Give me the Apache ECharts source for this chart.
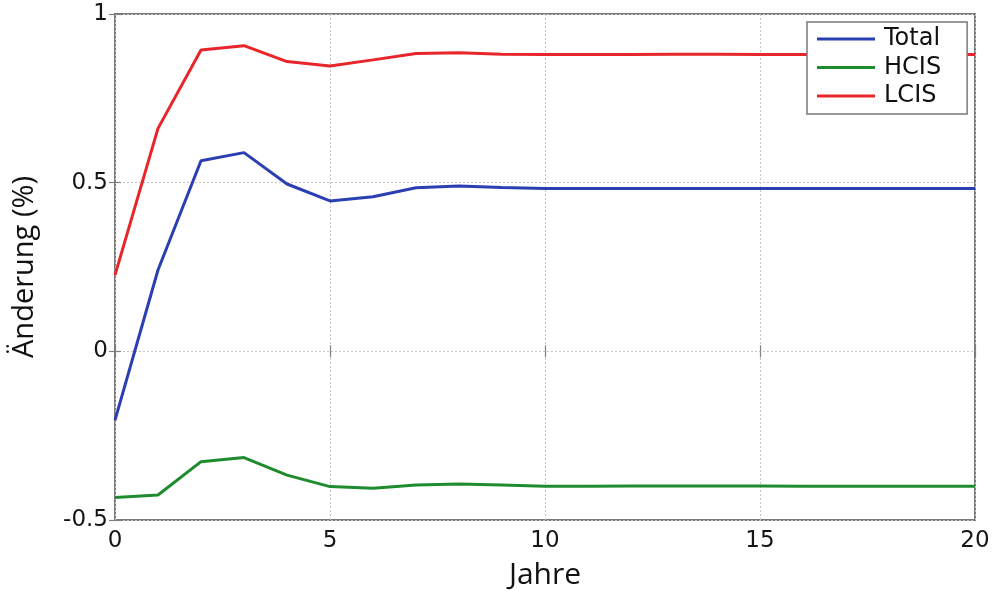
<!DOCTYPE html>
<html><head><meta charset="utf-8">
<script src="https://cdn.jsdelivr.net/npm/echarts@6/dist/echarts.min.js"></script>
<style>html,body{margin:0;padding:0;background:#fff}#c{width:1000px;height:590px}</style>
</head><body><div id="c"></div>
<script>
const years = [0,1,2,3,4,5,6,7,8,9,10,11,12,13,14,15,16,17,18,19,20];
const total = [-0.204,0.241,0.565,0.589,0.496,0.446,0.458,0.485,0.490,0.486,0.483,0.483,0.483,0.483,0.483,0.483,0.483,0.483,0.483,0.483,0.483];
const hcis  = [-0.433,-0.426,-0.327,-0.315,-0.367,-0.401,-0.406,-0.396,-0.393,-0.396,-0.400,-0.400,-0.399,-0.399,-0.399,-0.399,-0.400,-0.400,-0.400,-0.400,-0.400];
const lcis  = [0.226,0.661,0.893,0.906,0.859,0.846,0.864,0.883,0.885,0.881,0.880,0.880,0.880,0.881,0.881,0.880,0.880,0.880,0.880,0.880,0.880];
const seriesNames = ['Total','HCIS','LCIS'];
const xTitle = 'Jahre';
const yTitle = 'Änderung (%)';

const colors = ['#2b3fb3','#1e8c2e','#e8252a'];
const pair = arr => years.map((y,i)=>[y,arr[i]]);
const chart = echarts.init(document.getElementById('c'));
const tickFont = {fontFamily:'DejaVu Sans', fontSize:23, color:'#151515'};
const tickStyle = {inside:true, length:6, lineStyle:{color:'#808080', width:1.2}};
chart.setOption({
  animation:false,
  grid:{left:115, top:14, width:860, height:506, outerBoundsMode:'none', containLabel:false, show:true, borderColor:'#7a7a7a', borderWidth:2, backgroundColor:'#fff'},
  legend:{
    data:seriesNames, orient:'vertical', left:807, top:22,
    icon:'rect', itemWidth:58, itemHeight:3, itemGap:2.5,
    padding:[4,26,5,10],
    borderColor:'#7a7a7a', borderWidth:1.5, backgroundColor:'#fff',
    textStyle:{fontFamily:'DejaVu Sans', fontSize:24, lineHeight:26, color:'#111', padding:[0,0,0,4]}
  },
  xAxis:[{type:'value', min:0, max:20, interval:5,
    name:xTitle, nameLocation:'middle', nameGap:40,
    nameTextStyle:{fontFamily:'Open Sans', fontSize:30, color:'#111'},
    axisLine:{show:false}, axisTick:tickStyle,
    axisLabel:Object.assign({margin:10}, tickFont),
    splitLine:{show:true, lineStyle:{type:[2,2], color:'#c4c4c4', width:1}}
  },{type:'value', position:'top', min:0, max:20, interval:5,
    axisLine:{show:false}, axisTick:tickStyle, axisLabel:{show:false}, splitLine:{show:false}}],
  yAxis:[{type:'value', min:-0.5, max:1, interval:0.5,
    name:yTitle, nameLocation:'middle', nameGap:76, nameRotate:90,
    nameTextStyle:{fontFamily:'Open Sans', fontSize:29, color:'#111'},
    axisLine:{show:false}, axisTick:tickStyle,
    axisLabel:Object.assign({margin:7}, tickFont),
    splitLine:{show:true, lineStyle:{type:[2,2], color:'#c4c4c4', width:1}}
  },{type:'value', position:'right', min:-0.5, max:1, interval:0.5,
    axisLine:{show:false}, axisTick:tickStyle, axisLabel:{show:false}, splitLine:{show:false}}],
  series:[
    {name:seriesNames[0], type:'line', data:pair(total), showSymbol:false, lineStyle:{width:3, color:colors[0]}, itemStyle:{color:colors[0]}},
    {name:seriesNames[1], type:'line', data:pair(hcis), showSymbol:false, lineStyle:{width:3, color:colors[1]}, itemStyle:{color:colors[1]}},
    {name:seriesNames[2], type:'line', data:pair(lcis), showSymbol:false, lineStyle:{width:3, color:colors[2]}, itemStyle:{color:colors[2]}}
  ]
});
</script></body></html>
